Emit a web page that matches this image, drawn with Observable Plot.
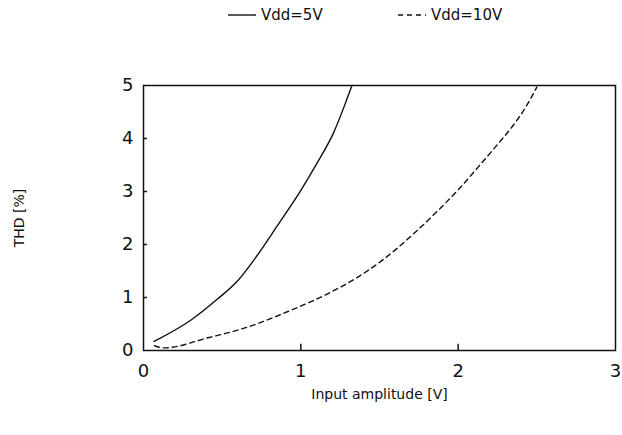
<!DOCTYPE html>
<html><head><meta charset="utf-8">
<script src="https://cdn.jsdelivr.net/npm/d3@7"></script>
<script src="https://cdn.jsdelivr.net/npm/@observablehq/plot@0.6"></script>
<style>
body{margin:0;background:#fff;font-family:"DejaVu Sans",sans-serif;}
#legend{position:relative;height:35px;width:622px;font-size:15px;color:#111;}
.item{position:absolute;top:6px;display:flex;align-items:center;gap:5px;}
</style></head>
<body>
<div id="legend"></div>
<div id="chart"></div>
<script>
const seriesNames = ["Vdd=5V", "Vdd=10V"];
const x5 = [0.067, 0.30, 0.47, 0.60, 0.70, 0.85, 1.0, 1.10, 1.21, 1.30, 1.325];
const y5 = [0.17, 0.57, 0.97, 1.32, 1.70, 2.35, 3.02, 3.52, 4.12, 4.80, 5.0];
const x10 = [0.07, 0.13, 0.41, 0.66, 0.93, 1.17, 1.36, 1.53, 1.716, 1.885, 2.012, 2.118, 2.245, 2.35, 2.435, 2.50];
const y10 = [0.09, 0.05, 0.24, 0.44, 0.75, 1.07, 1.38, 1.73, 2.20, 2.68, 3.07, 3.43, 3.87, 4.25, 4.62, 4.97];
const xTicks = [0, 1, 2, 3];
const yTicks = [0, 1, 2, 3, 4, 5];
const xInnerTicks = [1, 2];
const yInnerTicks = [1, 2, 3, 4];

const d5 = x5.map((x, i) => ({x, y: y5[i]}));
const d10 = x10.map((x, i) => ({x, y: y10[i]}));

// legend
const legend = document.getElementById("legend");
const dashes = [null, "5,4"];
const lefts = [228, 398];
seriesNames.forEach((n, i) => {
  const div = document.createElement("div");
  div.className = "item";
  div.style.left = lefts[i] + "px";
  div.innerHTML = `<svg width="28" height="4"><line x1="0" y1="2" x2="28" y2="2" stroke="#111" stroke-width="1.4" ${dashes[i] ? `stroke-dasharray="${dashes[i]}"` : ""}/></svg><span>${n}</span>`;
  legend.appendChild(div);
});

const W = 622, H = 400, mT = 50, mB = 85, mL = 143, mR = 7;
const tickLenY = 0.12;   // inner x-tick length, in y units (~6px)
const tickLenX = 0.025;  // inner y-tick length, in x units (~4px)
const chart = Plot.plot({
  width: W,
  height: H,
  marginTop: mT,
  marginBottom: mB,
  marginLeft: mL,
  marginRight: mR,
  style: {fontFamily: "DejaVu Sans, sans-serif", color: "#111", background: "#fff"},
  x: {domain: [0, 3]},
  y: {domain: [0, 5]},
  marks: [
    Plot.axisX({ticks: xTicks, tickFormat: "d", tickSize: 0, tickPadding: 14, fontSize: 18,
      label: "Input amplitude [V]", labelAnchor: "center", labelOffset: 48, labelArrow: "none"}),
    Plot.axisY({ticks: yTicks, tickFormat: "d", tickSize: 0, tickPadding: 10, fontSize: 18,
      label: "THD [%]", labelAnchor: "center", labelOffset: 129, labelArrow: "none"}),
    Plot.ruleX(xInnerTicks, {x: d => d, y1: 0, y2: tickLenY, stroke: "#111", strokeWidth: 1.5}),
    Plot.ruleY(yInnerTicks, {y: d => d, x1: 0, x2: tickLenX, stroke: "#111", strokeWidth: 1.5}),
    Plot.frame({stroke: "#111", strokeWidth: 1.5}),
    Plot.line(d5, {x: "x", y: "y", stroke: "#111", strokeWidth: 1.4, curve: "monotone-x"}),
    Plot.line(d10, {x: "x", y: "y", stroke: "#111", strokeWidth: 1.4, strokeDasharray: "5,4", curve: "monotone-x"})
  ]
});
chart.querySelectorAll("g[aria-label='x-axis label'] text, g[aria-label='y-axis label'] text").forEach(t => t.setAttribute("font-size", "14"));
document.getElementById("chart").appendChild(chart);
</script>
</body></html>
